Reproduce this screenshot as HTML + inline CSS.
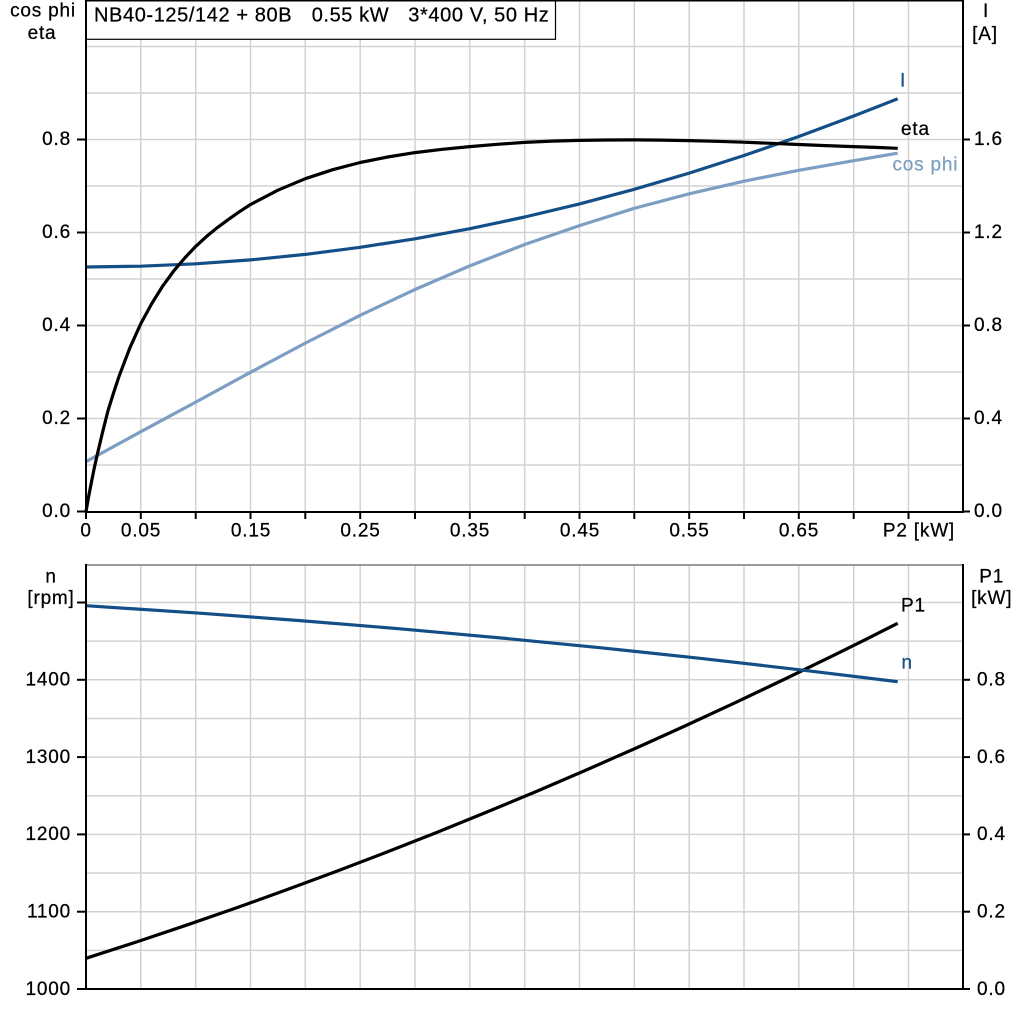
<!DOCTYPE html>
<html>
<head>
<meta charset="utf-8">
<style>
  html,body{margin:0;padding:0;background:#fff;}
  svg{display:block;}
  text{font-family:"Liberation Sans", Arial, sans-serif;font-size:19px;letter-spacing:0.8px;fill:#000;stroke:#000;stroke-width:0.25px;}
</style>
</head>
<body>
<svg width="1024" height="1024" viewBox="0 0 1024 1024" xmlns="http://www.w3.org/2000/svg">
  <rect x="0" y="0" width="1024" height="1024" fill="#fff"/>

  <!-- ================= TOP PANEL ================= -->
  <g stroke="#d2d2d2" stroke-width="1.5" fill="none">
    <line x1="140.8" y1="0" x2="140.8" y2="512"/>
    <line x1="195.7" y1="0" x2="195.7" y2="512"/>
    <line x1="250.5" y1="0" x2="250.5" y2="512"/>
    <line x1="305.3" y1="0" x2="305.3" y2="512"/>
    <line x1="360.2" y1="0" x2="360.2" y2="512"/>
    <line x1="415" y1="0" x2="415" y2="512"/>
    <line x1="469.8" y1="0" x2="469.8" y2="512"/>
    <line x1="524.7" y1="0" x2="524.7" y2="512"/>
    <line x1="579.5" y1="0" x2="579.5" y2="512"/>
    <line x1="634.3" y1="0" x2="634.3" y2="512"/>
    <line x1="689.2" y1="0" x2="689.2" y2="512"/>
    <line x1="744" y1="0" x2="744" y2="512"/>
    <line x1="798.8" y1="0" x2="798.8" y2="512"/>
    <line x1="853.7" y1="0" x2="853.7" y2="512"/>
    <line x1="908.5" y1="0" x2="908.5" y2="512"/>
    <line x1="86" y1="465" x2="963" y2="465"/>
    <line x1="86" y1="418.5" x2="963" y2="418.5"/>
    <line x1="86" y1="372" x2="963" y2="372"/>
    <line x1="86" y1="325.5" x2="963" y2="325.5"/>
    <line x1="86" y1="279" x2="963" y2="279"/>
    <line x1="86" y1="232.5" x2="963" y2="232.5"/>
    <line x1="86" y1="186" x2="963" y2="186"/>
    <line x1="86" y1="139.5" x2="963" y2="139.5"/>
    <line x1="86" y1="93" x2="963" y2="93"/>
    <line x1="86" y1="46.5" x2="963" y2="46.5"/>
  </g>

  <!-- title box -->
  <rect x="86" y="0.5" width="469.5" height="38.8" fill="#fff" stroke="#000" stroke-width="1.2"/>
  <text x="94" y="21.7" style="font-size:20px;letter-spacing:0.6px">NB40-125/142 + 80B</text>
  <text x="311.7" y="21.7" style="font-size:20px;letter-spacing:0.6px">0.55 kW</text>
  <text x="408.3" y="21.7" style="font-size:20px;letter-spacing:0.6px">3*400 V, 50 Hz</text>

  <!-- curves top -->
  <polyline fill="none" stroke="#7c9ec2" stroke-width="3.2" stroke-linejoin="round"
    points="86,461.7 140.8,431.7 195.7,402.1 250.5,372.3 305.3,343.1 360.2,315.3 415,289.5 469.8,265.9 524.7,244.5 579.5,225.6 634.3,208.3 689.2,193.8 744,181.2 798.8,170.3 853.7,160.7 897.7,153.2"/>
  <polyline fill="none" stroke="#134f86" stroke-width="3.2" stroke-linejoin="round"
    points="86,267 140.8,266.2 195.7,263.8 250.5,259.9 305.3,254.4 360.2,247.3 415,238.8 469.8,228.7 524.7,217 579.5,203.9 634.3,189.3 689.2,173.1 744,155.5 798.8,136.5 853.7,116 897.7,98.8"/>
  <polyline fill="none" stroke="#000" stroke-width="3.2" stroke-linejoin="round"
    points="86,511.5 88.7,496.2 91.5,481.8 94.2,468.3 97,455.7 102.5,432.5 107.9,411 113.4,393.4 118.9,376.7 129.9,347.8 140.8,323.6 151.8,303.5 162.8,285.9 173.7,271 184.7,258 195.7,246.4 206.6,236.4 217.6,227.4 228.6,219.3 239.5,211.7 250.5,204.5 277.9,190.2 305.3,178.7 332.7,169.7 360.2,162.5 387.6,157 415,152.6 442.4,149.3 469.8,146.6 497.2,144.3 524.7,142.4 552,141.1 579.3,140.4 606.8,140 634.3,139.9 661.6,140.1 689,140.6 716.3,141.3 743.7,142.2 771.2,143.3 798.7,144.5 826,145.6 853.3,146.6 875.5,147.4 897.7,148.3"/>

  <!-- curve labels top -->
  <text x="900" y="86.7" style="fill:#134f86;stroke:#134f86">I</text>
  <text x="901" y="135">eta</text>
  <text x="892.5" y="170.7" style="fill:#7c9ec2;stroke:#7c9ec2">cos phi</text>

  <!-- axes top -->
  <g stroke="#000" stroke-width="2" fill="none">
    <line x1="86" y1="0.75" x2="963" y2="0.75" stroke-width="1.5"/>
    <line x1="86" y1="0" x2="86" y2="513"/>
    <line x1="963" y1="0" x2="963" y2="513"/>
    <line x1="85" y1="512" x2="964" y2="512"/>
    <line x1="77" y1="511.5" x2="86" y2="511.5"/>
    <line x1="77" y1="418.5" x2="86" y2="418.5"/>
    <line x1="77" y1="325.5" x2="86" y2="325.5"/>
    <line x1="77" y1="232.5" x2="86" y2="232.5"/>
    <line x1="77" y1="139.5" x2="86" y2="139.5"/>
    <line x1="963" y1="511.5" x2="970" y2="511.5"/>
    <line x1="963" y1="418.5" x2="970" y2="418.5"/>
    <line x1="963" y1="325.5" x2="970" y2="325.5"/>
    <line x1="963" y1="232.5" x2="970" y2="232.5"/>
    <line x1="963" y1="139.5" x2="970" y2="139.5"/>
    <line x1="86" y1="512" x2="86" y2="519"/>
    <line x1="140.8" y1="512" x2="140.8" y2="519"/>
    <line x1="195.7" y1="512" x2="195.7" y2="519"/>
    <line x1="250.5" y1="512" x2="250.5" y2="519"/>
    <line x1="305.3" y1="512" x2="305.3" y2="519"/>
    <line x1="360.2" y1="512" x2="360.2" y2="519"/>
    <line x1="415" y1="512" x2="415" y2="519"/>
    <line x1="469.8" y1="512" x2="469.8" y2="519"/>
    <line x1="524.7" y1="512" x2="524.7" y2="519"/>
    <line x1="579.5" y1="512" x2="579.5" y2="519"/>
    <line x1="634.3" y1="512" x2="634.3" y2="519"/>
    <line x1="689.2" y1="512" x2="689.2" y2="519"/>
    <line x1="744" y1="512" x2="744" y2="519"/>
    <line x1="798.8" y1="512" x2="798.8" y2="519"/>
    <line x1="853.7" y1="512" x2="853.7" y2="519"/>
    <line x1="908.5" y1="512" x2="908.5" y2="519"/>
  </g>

  <g text-anchor="end">
    <text x="71" y="517">0.0</text>
    <text x="71" y="424">0.2</text>
    <text x="71" y="331">0.4</text>
    <text x="71" y="238">0.6</text>
    <text x="71" y="145">0.8</text>
  </g>
  <g>
    <text x="974" y="517">0.0</text>
    <text x="974" y="424">0.4</text>
    <text x="974" y="331">0.8</text>
    <text x="974" y="238">1.2</text>
    <text x="974" y="145">1.6</text>
  </g>
  <g text-anchor="middle">
    <text x="86" y="536.7">0</text>
    <text x="141" y="536.7">0.05</text>
    <text x="251" y="536.7">0.15</text>
    <text x="360.5" y="536.7">0.25</text>
    <text x="470" y="536.7">0.35</text>
    <text x="580" y="536.7">0.45</text>
    <text x="689.5" y="536.7">0.55</text>
    <text x="799" y="536.7">0.65</text>
  </g>
  <text x="955" y="536.7" text-anchor="end">P2 [kW]</text>

  <text x="43" y="16.5" text-anchor="middle">cos phi</text>
  <text x="42" y="39" text-anchor="middle">eta</text>
  <text x="986" y="17" text-anchor="middle">I</text>
  <text x="985" y="40" text-anchor="middle">[A]</text>

  <!-- ================= BOTTOM PANEL ================= -->
  <g stroke="#d2d2d2" stroke-width="1.5" fill="none">
    <line x1="140.8" y1="565" x2="140.8" y2="989"/>
    <line x1="195.7" y1="565" x2="195.7" y2="989"/>
    <line x1="250.5" y1="565" x2="250.5" y2="989"/>
    <line x1="305.3" y1="565" x2="305.3" y2="989"/>
    <line x1="360.2" y1="565" x2="360.2" y2="989"/>
    <line x1="415" y1="565" x2="415" y2="989"/>
    <line x1="469.8" y1="565" x2="469.8" y2="989"/>
    <line x1="524.7" y1="565" x2="524.7" y2="989"/>
    <line x1="579.5" y1="565" x2="579.5" y2="989"/>
    <line x1="634.3" y1="565" x2="634.3" y2="989"/>
    <line x1="689.2" y1="565" x2="689.2" y2="989"/>
    <line x1="744" y1="565" x2="744" y2="989"/>
    <line x1="798.8" y1="565" x2="798.8" y2="989"/>
    <line x1="853.7" y1="565" x2="853.7" y2="989"/>
    <line x1="908.5" y1="565" x2="908.5" y2="989"/>
    <line x1="86" y1="950.35" x2="963" y2="950.35"/>
    <line x1="86" y1="911.7" x2="963" y2="911.7"/>
    <line x1="86" y1="873.05" x2="963" y2="873.05"/>
    <line x1="86" y1="834.4" x2="963" y2="834.4"/>
    <line x1="86" y1="795.75" x2="963" y2="795.75"/>
    <line x1="86" y1="757.1" x2="963" y2="757.1"/>
    <line x1="86" y1="718.45" x2="963" y2="718.45"/>
    <line x1="86" y1="679.8" x2="963" y2="679.8"/>
    <line x1="86" y1="641.15" x2="963" y2="641.15"/>
    <line x1="86" y1="602.5" x2="963" y2="602.5"/>
  </g>

  <polyline fill="none" stroke="#000" stroke-width="3.2" stroke-linejoin="round"
    points="86,958.3 136,942.1 186,925.3 236,908 286,890 336,871.5 386,852.4 436,832.7 486,812.4 536,791.6 586,770.1 636,748.1 686,725.5 736,702.3 786,678.5 836,654.2 866.8,638.9 897.7,623.3"/>
  <polyline fill="none" stroke="#134f86" stroke-width="3.2" stroke-linejoin="round"
    points="86,605.7 200,613.2 300,620.6 400,628.8 500,637.9 600,647.7 700,658.3 800,669.8 897.7,681.7"/>

  <text x="901" y="611.7">P1</text>
  <text x="901.5" y="668.3" style="fill:#134f86;stroke:#134f86">n</text>

  <line x1="86" y1="565" x2="963" y2="565" stroke="#7a7a7a" stroke-width="1.6"/>
  <g stroke="#000" stroke-width="2" fill="none">
    <line x1="86" y1="564" x2="86" y2="990"/>
    <line x1="963" y1="564" x2="963" y2="990"/>
    <line x1="85" y1="989" x2="964" y2="989"/>
    <line x1="77" y1="989" x2="86" y2="989"/>
    <line x1="77" y1="911.7" x2="86" y2="911.7"/>
    <line x1="77" y1="834.4" x2="86" y2="834.4"/>
    <line x1="77" y1="757.1" x2="86" y2="757.1"/>
    <line x1="77" y1="679.8" x2="86" y2="679.8"/>
    <line x1="77" y1="602.5" x2="86" y2="602.5"/>
    <line x1="963" y1="989" x2="970" y2="989"/>
    <line x1="963" y1="911.7" x2="970" y2="911.7"/>
    <line x1="963" y1="834.4" x2="970" y2="834.4"/>
    <line x1="963" y1="757.1" x2="970" y2="757.1"/>
    <line x1="963" y1="679.8" x2="970" y2="679.8"/>
  </g>

  <g text-anchor="end">
    <text x="71" y="995">1000</text>
    <text x="71" y="917.5">1100</text>
    <text x="71" y="840">1200</text>
    <text x="71" y="763">1300</text>
    <text x="71" y="685.5">1400</text>
  </g>
  <g>
    <text x="977" y="995">0.0</text>
    <text x="977" y="917.5">0.2</text>
    <text x="977" y="840">0.4</text>
    <text x="977" y="763">0.6</text>
    <text x="977" y="685.5">0.8</text>
  </g>

  <text x="51" y="582.7" text-anchor="middle">n</text>
  <text x="51" y="604" text-anchor="middle">[rpm]</text>
  <text x="991.7" y="582.7" text-anchor="middle">P1</text>
  <text x="991.7" y="604" text-anchor="middle">[kW]</text>
</svg>
</body>
</html>
